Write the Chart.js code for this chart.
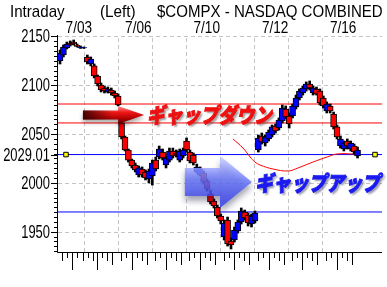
<!DOCTYPE html>
<html>
<head>
<meta charset="utf-8">
<title>$COMPX Intraday</title>
<script src="https://cdn.jsdelivr.net/npm/chart.js@4.4.1/dist/chart.umd.min.js"></script>
<style>
  html, body { margin: 0; padding: 0; background: #fff; }
  #chart { display: block; }
</style>
</head>
<body>
<canvas id="chart" width="387" height="287"></canvas>
<script>
// --- candles, one per slot ---
const opens = [2124.9, 2131.0, 2138.2, 2143.3, 2144.3, 2141.3, 2138.2, 2138.2,
  2129.0, 2121.8, 2119.8, 2109.5, 2100.3, 2097.2, 2093.1, 2095.2, 2092.1, 2089.0,
  2061.4, 2047.0, 2033.7, 2023.4, 2018.3, 2008.1, 2014.2, 2011.2, 2004.0, 2007.1,
  2023.4, 2026.5, 2031.6, 2018.3, 2023.4, 2032.7, 2030.6, 2023.4, 2027.5, 2042.9,
  2031.6, 2028.6, 2011.2, 2008.1, 2010.1, 2001.9, 1988.6, 1981.4, 1975.3, 1966.1,
  1944.6, 1962.0, 1940.5, 1941.5, 1950.7, 1959.9, 1970.2, 1967.1, 1957.9, 1961.0,
  2033.7, 2048.0, 2040.9, 2045.0, 2049.1, 2058.3, 2056.2, 2063.4, 2075.7, 2068.5,
  2068.5, 2077.7, 2087.0, 2092.1, 2096.2, 2101.3, 2092.1, 2096.2, 2094.1, 2087.0,
  2073.6, 2078.8, 2070.6, 2057.3, 2037.8, 2034.7, 2042.9, 2034.7, 2037.8, 2027.5];
const highs = [2136.1, 2141.3, 2144.3, 2145.4, 2146.4, 2142.3, 2140.2, 2139.2,
  2131.0, 2129.0, 2121.8, 2110.5, 2102.3, 2099.3, 2098.2, 2097.2, 2094.1, 2091.1,
  2062.4, 2048.0, 2034.7, 2024.4, 2020.4, 2017.3, 2016.3, 2013.2, 2014.2, 2023.4,
  2026.5, 2037.8, 2034.7, 2027.5, 2035.7, 2035.7, 2033.7, 2034.7, 2035.7, 2046.0,
  2033.7, 2030.6, 2019.3, 2016.3, 2012.2, 2004.0, 1992.7, 1983.5, 1977.3, 1968.1,
  1962.0, 1965.0, 1943.5, 1954.8, 1962.0, 1974.3, 1972.2, 1969.1, 1968.1, 1971.2,
  2049.1, 2051.1, 2049.1, 2054.2, 2059.3, 2060.3, 2066.5, 2079.8, 2078.8, 2071.6,
  2080.8, 2090.0, 2096.2, 2099.3, 2103.4, 2104.4, 2099.3, 2098.2, 2096.2, 2089.0,
  2082.9, 2080.8, 2072.6, 2059.3, 2048.0, 2042.9, 2045.0, 2042.9, 2039.8, 2036.7];
const lows = [2121.8, 2129.0, 2137.2, 2140.2, 2141.3, 2139.2, 2137.7, 2137.7,
  2121.8, 2119.8, 2107.5, 2099.3, 2093.1, 2092.1, 2092.1, 2090.0, 2087.0, 2078.8,
  2045.0, 2032.7, 2021.4, 2015.3, 2011.2, 2006.0, 2006.0, 2003.0, 1999.9, 1997.8,
  2012.2, 2024.5, 2023.4, 2015.3, 2021.4, 2025.5, 2026.5, 2021.4, 2025.5, 2031.6,
  2020.4, 2018.3, 2010.1, 2007.1, 1998.9, 1991.7, 1978.4, 1974.3, 1964.0, 1957.9,
  1941.5, 1935.3, 1932.3, 1939.4, 1948.6, 1957.9, 1962.0, 1955.8, 1954.8, 1958.9,
  2031.6, 2039.8, 2037.8, 2042.9, 2047.0, 2051.1, 2054.2, 2061.4, 2065.5, 2056.2,
  2066.5, 2075.7, 2084.9, 2090.0, 2094.1, 2095.2, 2090.0, 2090.0, 2079.8, 2076.7,
  2071.6, 2071.6, 2055.2, 2045.0, 2035.7, 2032.7, 2034.7, 2032.7, 2029.6, 2025.5];
const closes = [2133.1, 2139.2, 2142.3, 2141.3, 2142.3, 2139.7, 2139.2, 2138.7,
  2123.9, 2126.9, 2109.5, 2101.3, 2095.2, 2094.1, 2096.2, 2092.1, 2089.0, 2079.8,
  2047.0, 2033.7, 2023.4, 2017.3, 2013.2, 2015.3, 2008.1, 2005.0, 2012.2, 2020.4,
  2014.2, 2034.7, 2025.5, 2025.5, 2032.7, 2027.5, 2028.6, 2032.7, 2033.7, 2033.7,
  2022.4, 2020.4, 2016.3, 2014.2, 2000.9, 1993.7, 1980.4, 1976.3, 1966.1, 1961.0,
  1958.9, 1937.4, 1936.4, 1951.7, 1959.9, 1971.2, 1964.0, 1958.9, 1966.1, 1969.1,
  2046.0, 2041.9, 2047.0, 2052.1, 2057.3, 2053.2, 2064.4, 2076.7, 2067.5, 2060.3,
  2078.8, 2087.0, 2094.1, 2097.2, 2101.3, 2097.2, 2097.2, 2091.1, 2081.8, 2078.8,
  2080.8, 2073.6, 2057.3, 2047.0, 2045.0, 2040.9, 2037.8, 2040.9, 2031.6, 2033.7];

// horizontal levels
const gapDownLevels = [2080.8, 2061.4];
const gapUpLevels = [2029.01, 1970.2];
const lastLevel = 2029.01;

// hand drawn red curve (slot, price)
const curveSlots = [50.6, 53.5, 55.6, 57.0, 58.5, 62.3, 66.7, 69.6, 74.0, 78.1, 81.0, 86.3];
const curvePrices = [2045.0, 2035.7, 2026.5, 2021.4, 2018.3, 2014.2, 2012.2, 2015.3, 2021.4, 2026.5, 2029.6, 2029.6];
const markerSlots = [1.75, 92.1];

// axes
const yMajor = [1950, 2000, 2050, 2100, 2150];
const yLabels = ['1950', '2000', '2050', '2100', '2150'];
const gridSlots = [7.1, 17.05, 27.0, 36.9, 46.9, 56.8, 66.75, 76.7];
const dayStarts = [3.6, 10.9, 21.0, 31.0, 41.0, 51.0, 61.0, 70.9, 80.9];
const dateLabels = ['7/03', '7/06', '7/10', '7/12', '7/16'];
const dateDays = [0, 2, 4, 6, 8];

const X_MIN = -0.585, X_MAX = 94.15;
const Y_MIN = 1929.2, Y_MAX = 2151.5;

const slots = opens.map((_, i) => i);

function hline(v) {
  return [{ x: X_MIN, y: v }, { x: X_MAX, y: v }];
}

function squeezeText(ctx, str, x, y, sx, align, stroke) {
  ctx.save();
  ctx.translate(x, y);
  ctx.scale(sx, 1);
  ctx.textAlign = align;
  ctx.fillText(str, 0, 0);
  if (stroke) {
    ctx.shadowColor = 'transparent';
    ctx.strokeText(str, 0, 0);
  }
  ctx.restore();
}

function fitText(ctx, str, x, y, width) {
  const w = ctx.measureText(str).width;
  squeezeText(ctx, str, x, y, width / w, 'left', true);
}

function arrowPath(ctx, x0, x1, x2, yc, bh, hh) {
  ctx.beginPath();
  ctx.moveTo(x0, yc - bh);
  ctx.lineTo(x1, yc - bh);
  ctx.lineTo(x1, yc - hh);
  ctx.lineTo(x2, yc);
  ctx.lineTo(x1, yc + hh);
  ctx.lineTo(x1, yc + bh);
  ctx.lineTo(x0, yc + bh);
  ctx.closePath();
}

// --- grid, axes, ticks, labels ---
const axesPlugin = {
  id: 'axesPlugin',
  beforeDatasetsDraw(chart) {
    const { ctx, chartArea: a, scales: { x, y } } = chart;
    ctx.save();

    // dashed grid
    ctx.strokeStyle = '#c4c4c4';
    ctx.lineWidth = 1;
    ctx.setLineDash([4, 3]);
    ctx.beginPath();
    gridSlots.forEach(s => {
      const px = Math.round(x.getPixelForValue(s)) + 0.5;
      ctx.moveTo(px, a.top + 3);
      ctx.lineTo(px, a.bottom);
    });
    yMajor.forEach(v => {
      const py = Math.round(y.getPixelForValue(v)) + 0.5;
      ctx.moveTo(a.left, py);
      ctx.lineTo(a.right, py);
    });
    ctx.stroke();
    ctx.setLineDash([]);

    // axis lines
    ctx.strokeStyle = '#000';
    ctx.beginPath();
    ctx.moveTo(a.left - 0.5, a.top);
    ctx.lineTo(a.left - 0.5, a.bottom + 0.5);
    ctx.lineTo(a.right, a.bottom + 0.5);
    ctx.stroke();

    // y ticks: minor every 5, major at labels
    ctx.beginPath();
    for (let v = 1930; v <= 2150; v += 5) {
      const py = Math.round(y.getPixelForValue(v)) + 0.5;
      const len = (v % 50 === 0) ? 6 : 3;
      ctx.moveTo(a.left - 1 - len, py);
      ctx.lineTo(a.left - 1, py);
    }
    const pl = Math.round(y.getPixelForValue(lastLevel)) + 0.5;
    ctx.moveTo(a.left - 7, pl);
    ctx.lineTo(a.left - 1, pl);

    // x ticks: day starts long, hours shorter
    const xt = [];
    const fullDay = [[1.46, 5], [2.92, 8], [4.39, 12], [6.81, 8], [8.27, 5]];
    xt.push([0.67, 8], [2.13, 5]);
    [[1.46, 5], [3.22, 8], [4.5, 5], [5.96, 8]].forEach(([o, l]) => xt.push([dayStarts[0] + o, l]));
    dayStarts.forEach((d, k) => {
      xt.push([d, 17]);
      if (k >= 1 && k <= 7) fullDay.forEach(([o, l]) => xt.push([d + o, l]));
      if (k === 8) fullDay.slice(0, 3).forEach(([o, l]) => xt.push([d + o, l]));
    });
    xt.forEach(([s, l]) => {
      const px = Math.round(x.getPixelForValue(s)) + 0.5;
      ctx.moveTo(px, a.bottom + 1);
      ctx.lineTo(px, a.bottom + 1 + l);
    });
    ctx.stroke();

    // labels
    ctx.fillStyle = '#000';
    ctx.textBaseline = 'middle';
    ctx.font = '18px "Liberation Sans"';
    yMajor.forEach((v, i) => {
      squeezeText(ctx, yLabels[i], a.left - 8, y.getPixelForValue(v) + 1, 0.72, 'right');
    });
    squeezeText(ctx, lastLevel.toFixed(2), a.left - 8, pl + 1, 0.72, 'right');

    ctx.textBaseline = 'alphabetic';
    ctx.font = '16px "Liberation Sans"';
    dateDays.forEach((d, i) => {
      const px = x.getPixelForValue(dayStarts[d]) + 6.5;
      squeezeText(ctx, dateLabels[i], px, 33, 0.85, 'center');
    });

    ctx.font = '17px "Liberation Sans"';
    squeezeText(ctx, 'Intraday', 10, 17, 0.89, 'left');
    squeezeText(ctx, '(Left)', 100, 17, 0.9, 'left');
    squeezeText(ctx, '$COMPX - NASDAQ COMBINED', 157, 17, 0.885, 'left');
    ctx.restore();
  }
};

// --- arrows and captions on top ---
const notesPlugin = {
  id: 'notesPlugin',
  afterDatasetsDraw(chart) {
    const { ctx, scales: { x, y } } = chart;
    ctx.save();

    // red gap-down arrow
    let x0 = x.getPixelForValue(6.7), x1 = x.getPixelForValue(17.0), x2 = x.getPixelForValue(24.6);
    let yc = y.getPixelForValue(2069.6);
    ctx.save();
    ctx.shadowColor = 'rgba(0,0,0,0.35)';
    ctx.shadowBlur = 4;
    ctx.shadowOffsetY = 3;
    let g = ctx.createLinearGradient(0, yc - 9, 0, yc + 9);
    g.addColorStop(0, '#ff9a9a');
    g.addColorStop(0.35, '#f01818');
    g.addColorStop(0.7, '#b00000');
    g.addColorStop(1, '#500000');
    arrowPath(ctx, x0, x1, x2, yc, 4.5, 9);
    ctx.fillStyle = g;
    ctx.fill();
    ctx.restore();
    ctx.save();
    arrowPath(ctx, x0, x1, x2, yc, 4.5, 9);
    ctx.clip();
    g = ctx.createLinearGradient(x0, 0, x0 + 30, 0);
    g.addColorStop(0, 'rgba(40,0,0,0.85)');
    g.addColorStop(1, 'rgba(40,0,0,0)');
    ctx.fillStyle = g;
    ctx.fillRect(x0, yc - 10, 31, 20);
    ctx.restore();

    ctx.save();
    ctx.font = 'italic 900 21px "Noto Sans CJK JP"';
    ctx.textBaseline = 'middle';
    ctx.shadowColor = 'rgba(90,90,90,0.6)';
    ctx.shadowBlur = 2;
    ctx.shadowOffsetX = 2;
    ctx.shadowOffsetY = 2;
    ctx.fillStyle = '#ee1111';
    ctx.strokeStyle = '#ee1111';
    ctx.lineWidth = 1;
    fitText(ctx, 'ギャップダウン', x.getPixelForValue(25.4), yc, 125);
    ctx.restore();

    // blue gap-up arrow
    x0 = x.getPixelForValue(36.5); x1 = x.getPixelForValue(46.8); x2 = x.getPixelForValue(56.1);
    yc = y.getPixelForValue(2000.9);
    ctx.save();
    ctx.globalAlpha = 0.8;
    ctx.shadowColor = 'rgba(0,0,40,0.45)';
    ctx.shadowBlur = 6;
    ctx.shadowOffsetY = 5;
    g = ctx.createLinearGradient(0, yc - 26, 0, yc + 26);
    g.addColorStop(0, '#c8ceff');
    g.addColorStop(0.45, '#6a78ff');
    g.addColorStop(1, '#2a34e8');
    arrowPath(ctx, x0, x1, x2, yc, 14, 26);
    ctx.fillStyle = g;
    ctx.fill();
    ctx.restore();

    ctx.save();
    ctx.font = 'italic 900 21px "Noto Sans CJK JP"';
    ctx.textBaseline = 'middle';
    ctx.shadowColor = 'rgba(80,80,110,0.6)';
    ctx.shadowBlur = 2;
    ctx.shadowOffsetX = 2;
    ctx.shadowOffsetY = 2;
    ctx.fillStyle = '#1a1af0';
    ctx.strokeStyle = '#1a1af0';
    ctx.lineWidth = 1;
    fitText(ctx, 'ギャップアップ', x.getPixelForValue(57.0), y.getPixelForValue(1999.9), 125);
    ctx.restore();

    ctx.restore();
  }
};

const ctx = document.getElementById('chart').getContext('2d');
new Chart(ctx, {
  type: 'bar',
  data: {
    datasets: [
      {
        type: 'line', label: 'gap down', order: 6,
        data: hline(gapDownLevels[0]), borderColor: '#ff0000', borderWidth: 1, pointRadius: 0
      },
      {
        type: 'line', label: 'gap down 2', order: 6,
        data: hline(gapDownLevels[1]), borderColor: '#ff0000', borderWidth: 1, pointRadius: 0
      },
      {
        type: 'line', label: 'gap up', order: 6,
        data: hline(gapUpLevels[0]), borderColor: '#0000ff', borderWidth: 1, pointRadius: 0
      },
      {
        type: 'line', label: 'gap up 2', order: 6,
        data: hline(gapUpLevels[1]), borderColor: '#0000ff', borderWidth: 1, pointRadius: 0
      },
      {
        type: 'line', label: 'curve', order: 5,
        data: curveSlots.map((s, i) => ({ x: s, y: curvePrices[i] })),
        borderColor: '#ff0000', borderWidth: 1, pointRadius: 0, tension: 0.4
      },
      {
        label: 'wick', order: 3, grouped: false,
        data: slots.map(i => ({ x: i, y: [lows[i], highs[i]] })),
        backgroundColor: '#000', borderWidth: 0, barThickness: 2
      },
      {
        label: 'body', order: 2, grouped: false,
        data: slots.map(i => ({ x: i, y: [opens[i], closes[i]] })),
        backgroundColor: slots.map(i => closes[i] >= opens[i] ? '#0000ff' : '#ff0000'),
        borderColor: '#000', borderWidth: 1, borderSkipped: false, barThickness: 6
      },
      {
        type: 'line', label: 'last', order: 1, showLine: false,
        data: markerSlots.map(s => ({ x: s, y: lastLevel })),
        pointStyle: 'rect', pointRadius: 3.2,
        pointBackgroundColor: '#ffff00', pointBorderColor: '#000', pointBorderWidth: 1
      }
    ]
  },
  options: {
    responsive: false,
    devicePixelRatio: 1,
    animation: false,
    layout: { padding: { left: 58, top: 35, right: 5, bottom: 35 } },
    plugins: { legend: { display: false }, tooltip: { enabled: false } },
    scales: {
      x: { type: 'linear', display: false, min: X_MIN, max: X_MAX, offset: false },
      y: { type: 'linear', display: false, min: Y_MIN, max: Y_MAX }
    }
  },
  plugins: [axesPlugin, notesPlugin]
});
</script>
</body>
</html>
